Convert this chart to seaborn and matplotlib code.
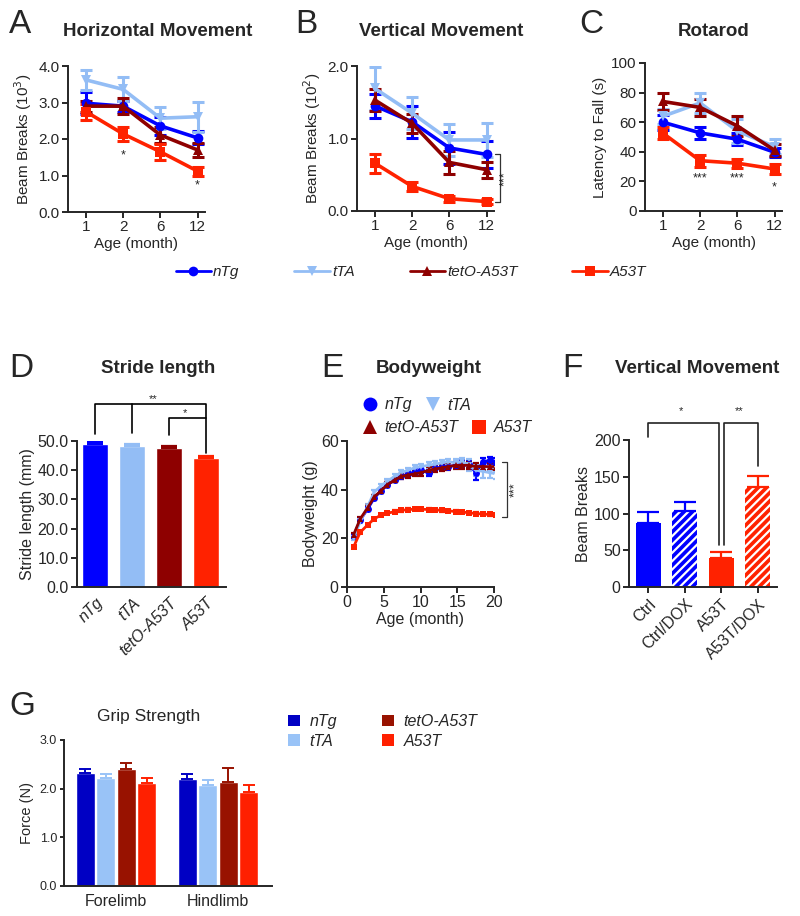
import numpy as np
import pandas as pd
import matplotlib.pyplot as plt
import matplotlib.ticker as mticker
from matplotlib.lines import Line2D
from matplotlib.patches import Patch
import seaborn as sns

# ── Data ───────────────────────────────────────────────────────────
groups = ['nTg', 'tTA', 'tetO-A53T', 'A53T']
ages = ['1', '2', '6', '12']

# A: horizontal movement (10^3), rows follow `groups`
horiz_mean = [[2.98, 2.90, 2.36, 2.03],
              [3.62, 3.36, 2.57, 2.61],
              [2.90, 2.90, 2.11, 1.70],
              [2.75, 2.14, 1.65, 1.12]]
horiz_err = [[0.30, 0.15, 0.25, 0.18],
             [0.27, 0.33, 0.30, 0.41],
             [0.15, 0.22, 0.22, 0.20],
             [0.22, 0.20, 0.22, 0.12]]

# B: vertical movement (10^2)
vert_mean = [[1.45, 1.23, 0.87, 0.78],
             [1.69, 1.35, 0.98, 0.98],
             [1.53, 1.21, 0.67, 0.57],
             [0.66, 0.34, 0.17, 0.13]]
vert_err = [[0.17, 0.22, 0.22, 0.18],
            [0.30, 0.22, 0.22, 0.23],
            [0.15, 0.13, 0.16, 0.11],
            [0.13, 0.06, 0.04, 0.03]]

# C: rotarod (s)
rota_mean = [[60.0, 52.8, 48.5, 39.7],
             [64.0, 73.0, 54.0, 43.5],
             [74.0, 70.0, 57.5, 41.0],
             [52.6, 34.0, 32.3, 28.4]]
rota_err = [[5.0, 4.0, 4.0, 3.0],
            [5.0, 7.0, 8.0, 5.0],
            [6.0, 6.0, 7.0, 4.0],
            [4.0, 4.0, 3.0, 3.5]]

# D: stride length (mm)
stride_mean = [49.0, 48.3, 47.6, 44.1]
stride_err = [0.8, 0.6, 0.8, 0.6]

# E: bodyweight (g)
bw_age = [0.9, 1.8, 2.8, 3.7, 4.6, 5.5, 6.5, 7.4, 8.3, 9.2, 10.1,
          11.1, 12.0, 12.9, 13.8, 14.8, 15.7, 16.6, 17.5, 18.5, 19.4, 20.3]
bw_mean = [[21.0, 27.5, 32.0, 36.5, 39.5, 42.0, 44.0, 45.5, 46.5, 47.3, 48.0,
            46.8, 48.8, 49.3, 49.5, 50.0, 50.5, 50.5, 47.0, 51.5, 52.0, 51.5],
           [20.0, 27.0, 33.0, 39.0, 41.5, 43.5, 45.5, 47.0, 48.0, 49.0, 49.5,
            50.0, 50.5, 51.0, 51.5, 51.0, 51.5, 50.0, 48.0, 47.5, 47.0, 46.5],
           [21.5, 28.0, 32.5, 37.0, 39.5, 42.0, 44.0, 45.5, 46.0, 46.5, 47.0,
            48.0, 48.5, 49.0, 49.5, 50.0, 50.0, 50.0, 49.5, 49.5, 49.5, 49.5],
           [16.5, 22.5, 25.5, 28.0, 29.5, 30.3, 31.0, 31.5, 31.8, 32.0, 32.0,
            31.8, 31.7, 31.5, 31.3, 31.0, 30.8, 30.5, 30.2, 30.0, 29.8, 29.5]]
bw_err = [[0.8, 0.8, 0.8, 0.9, 0.9, 1.0, 1.0, 1.0, 1.0, 1.0, 1.0,
           1.2, 1.2, 1.2, 1.2, 1.3, 1.5, 1.5, 3.0, 1.5, 1.5, 1.5],
          [0.8, 0.8, 1.0, 1.0, 1.0, 1.0, 1.0, 1.0, 1.0, 1.0, 1.2,
           1.2, 1.2, 1.2, 1.3, 1.5, 1.5, 2.5, 2.5, 2.5, 2.0, 2.0],
          [0.8, 0.8, 1.0, 1.0, 1.0, 1.0, 1.0, 1.0, 1.0, 1.0, 1.2,
           1.2, 1.2, 1.2, 1.3, 1.5, 1.5, 1.5, 1.5, 1.5, 1.5, 1.5],
          [0.5, 0.5, 0.5, 0.5, 0.5, 0.5, 0.5, 0.5, 0.5, 0.5, 0.5,
           0.5, 0.5, 0.5, 0.5, 0.5, 0.5, 0.5, 0.5, 0.5, 0.5, 0.5]]

# F: vertical movement with DOX
dox_cats = ['Ctrl', 'Ctrl/DOX', 'A53T', 'A53T/DOX']
dox_mean = [87.5, 104.0, 40.0, 135.6]
dox_err = [14.0, 12.0, 8.0, 15.0]

# G: grip strength (N)
limbs = ['Forelimb', 'Hindlimb']
grip_mean = [[2.33, 2.19],
             [2.21, 2.07],
             [2.41, 2.14],
             [2.11, 1.94]]
grip_err = [[0.07, 0.12],
            [0.09, 0.11],
            [0.11, 0.29],
            [0.10, 0.14]]

# ── Style ──────────────────────────────────────────────────────────
sns.set_style('ticks')
plt.rcParams['font.family'] = ['Liberation Sans', 'DejaVu Sans']
plt.rcParams['axes.linewidth'] = 1.4
plt.rcParams['xtick.major.width'] = 1.4
plt.rcParams['ytick.major.width'] = 1.4
plt.rcParams['xtick.major.size'] = 4
plt.rcParams['ytick.major.size'] = 4
plt.rcParams['xtick.major.pad'] = 2
plt.rcParams['ytick.major.pad'] = 2
plt.rcParams['hatch.linewidth'] = 1.6

PAL = {'nTg': '#0000ff', 'tTA': '#93bdf5', 'tetO-A53T': '#8e0000', 'A53T': '#ff2200'}
PAL_G = {'nTg': '#0000c4', 'tTA': '#99c3f7', 'tetO-A53T': '#981200', 'A53T': '#ff2000'}
MARK = {'nTg': 'o', 'tTA': 'v', 'tetO-A53T': '^', 'A53T': 's'}
DOX_COL = ['#0000ff', '#0000ff', '#ff2200', '#ff2200']
DOX_HATCH = ['', '////', '', '////']

W, H = 800, 916
fig = plt.figure(figsize=(8, 9.16), dpi=100)


def add_ax(l, t, r, b):
    return fig.add_axes([l / W, 1 - b / H, (r - l) / W, (b - t) / H])


def letter(x, y, s):
    fig.text(x / W, 1 - y / H, s, fontsize=24, va='baseline', ha='left')


def title(x, y, s, bold=True, size=13.5):
    fig.text(x / W, 1 - y / H, s, fontsize=size, va='baseline', ha='center',
             fontweight='bold' if bold else 'normal')


def line_panel(ax, means, errs, ylim, yticks, fmt, ylabel):
    rows = []
    for g, m in zip(groups, means):
        for i, v in enumerate(m):
            rows.append({'pos': i, 'value': v, 'group': g})
    df = pd.DataFrame(rows)
    for g, m, e in zip(groups, means, errs):
        ax.errorbar(range(len(ages)), m, yerr=e, fmt='none', ecolor=PAL[g],
                    elinewidth=2.2, capsize=4.5, capthick=2.2, zorder=2)
    sns.lineplot(data=df, x='pos', y='value', hue='group', style='group',
                 hue_order=groups, style_order=groups, markers=MARK,
                 dashes=False, palette=PAL, linewidth=2.6, markersize=7,
                 markeredgewidth=0, legend=False, ax=ax, zorder=3)
    ax.set_xlim(-0.48, 3.2)
    ax.set_ylim(*ylim)
    ax.set_yticks(yticks)
    ax.yaxis.set_major_formatter(mticker.FormatStrFormatter(fmt))
    ax.set_xticks(range(len(ages)))
    ax.set_xticklabels(ages)
    ax.tick_params(labelsize=11)
    ax.set_xlabel('Age (month)', fontsize=11, labelpad=2)
    ax.set_ylabel(ylabel, fontsize=11, labelpad=3)
    sns.despine(ax=ax)


# ══════════════════════════════════════════════════════════════════
# A / B / C — line panels
# ══════════════════════════════════════════════════════════════════
axA = add_ax(68, 66, 205, 212)
line_panel(axA, horiz_mean, horiz_err, (0, 4), [0, 1, 2, 3, 4], '%.1f',
           'Beam Breaks (10$^3$)')
axA.text(1, 1.55, '*', ha='center', va='center', fontsize=9)
axA.text(3, 0.72, '*', ha='center', va='center', fontsize=9)

axB = add_ax(357, 66, 494, 211)
line_panel(axB, vert_mean, vert_err, (0, 2), [0, 1, 2], '%.1f',
           'Beam Breaks (10$^2$)')
axB.plot([3.22, 3.35, 3.35, 3.22], [0.785, 0.785, 0.124, 0.124],
         color='#333333', lw=0.9, clip_on=False)
axB.text(3.5, 0.45, '***', rotation=90, ha='center', va='center', fontsize=9)

axC = add_ax(645, 63, 782, 211)
line_panel(axC, rota_mean, rota_err, (0, 100), [0, 20, 40, 60, 80, 100], '%d',
           'Latency to Fall (s)')
axC.text(1, 22, '***', ha='center', va='center', fontsize=9)
axC.text(2, 22, '***', ha='center', va='center', fontsize=9)
axC.text(3, 16, '*', ha='center', va='center', fontsize=9)

letter(9, 33, 'A')
letter(295, 33, 'B')
letter(579, 33, 'C')
title(158, 36, 'Horizontal Movement')
title(441, 36, 'Vertical Movement')
title(714, 36, 'Rotarod')

handles = [Line2D([], [], color=PAL[g], marker=MARK[g], lw=2, markersize=7,
                  markeredgewidth=0) for g in groups]
fig.legend(handles, groups, loc='center', bbox_to_anchor=(411 / W, 1 - 272 / H),
           ncol=4, frameon=False, prop={'style': 'italic', 'size': 11},
           handlelength=2.3, handletextpad=0.15, columnspacing=3.6)

# ══════════════════════════════════════════════════════════════════
# D — stride length
# ══════════════════════════════════════════════════════════════════
axD = add_ax(77, 441, 226, 587)
sns.barplot(x=groups, y=stride_mean, hue=groups, order=groups, hue_order=groups,
            palette=PAL, legend=False, width=0.7, saturation=1, ax=axD)
for bar, e, g in zip(axD.patches, stride_err, groups):
    cx = bar.get_x() + bar.get_width() / 2
    axD.errorbar(cx, bar.get_height(), yerr=[[0], [e]], fmt='none', ecolor=PAL[g],
                 elinewidth=1.6, capsize=6, capthick=1.6)
axD.set_xlim(-0.49, 3.54)
axD.set_ylim(0, 50)
axD.set_yticks([0, 10, 20, 30, 40, 50])
axD.yaxis.set_major_formatter(mticker.FormatStrFormatter('%.1f'))
axD.set_xticks(range(4))
axD.set_xticklabels(groups, rotation=45, ha='right', rotation_mode='anchor',
                    style='italic')
axD.tick_params(axis='x', length=0, pad=6)
axD.tick_params(labelsize=11.5)
axD.set_ylabel('Stride length (mm)', fontsize=11.5, labelpad=2)
sns.despine(ax=axD)
kw = dict(color='black', lw=1.2, clip_on=False)
axD.plot([0, 0, 3, 3], [52.5, 62.7, 62.7, 46.0], **kw)
axD.plot([1, 1], [52.7, 62.7], **kw)
axD.plot([2, 2, 3], [52.0, 57.9, 57.9], **kw)
axD.text(1.57, 64.3, '**', ha='center', va='center', fontsize=8)
axD.text(2.43, 59.6, '*', ha='center', va='center', fontsize=8)
letter(9, 377, 'D')
title(158, 373, 'Stride length')

# ══════════════════════════════════════════════════════════════════
# E — bodyweight
# ══════════════════════════════════════════════════════════════════
axE = add_ax(347, 441, 494, 587)
rows = []
for g, m in zip(groups, bw_mean):
    for a, v in zip(bw_age, m):
        rows.append({'age': a, 'weight': v, 'group': g})
dfE = pd.DataFrame(rows)
for g, m, e in zip(groups, bw_mean, bw_err):
    axE.errorbar(bw_age, m, yerr=e, fmt='none', ecolor=PAL[g], elinewidth=1.6,
                 capsize=2.5, capthick=1.6, zorder=2)
sns.lineplot(data=dfE, x='age', y='weight', hue='group', style='group',
             hue_order=groups, style_order=groups, markers=MARK, dashes=False,
             palette=PAL, linewidth=2.0, markersize=5, markeredgewidth=0,
             legend=False, ax=axE, zorder=3)
axE.set_xlim(0, 20)
axE.set_ylim(0, 60)
axE.set_xticks([0, 5, 10, 15, 20])
axE.set_yticks([0, 20, 40, 60])
axE.tick_params(labelsize=11.5)
axE.set_xlabel('Age (month)', fontsize=11.5, labelpad=1)
axE.set_ylabel('Bodyweight (g)', fontsize=11.5, labelpad=2)
sns.despine(ax=axE)
axE.plot([21.1, 21.8, 21.8, 21.1], [51.3, 51.3, 28.8, 28.8], color='#333333',
         lw=0.9, clip_on=False)
axE.text(22.9, 40, '***', rotation=90, ha='center', va='center', fontsize=9)
hE = {g: Line2D([], [], color=PAL[g], marker=MARK[g], linestyle='none',
                markersize=10, markeredgewidth=0) for g in groups}
legE1 = axE.legend([hE['nTg'], hE['tTA']], ['nTg', 'tTA'], loc='center left',
                   bbox_to_anchor=(362 / W, 1 - 405 / H),
                   bbox_transform=fig.transFigure, ncol=2, frameon=False,
                   prop={'style': 'italic', 'size': 11.5}, handlelength=1.0,
                   handletextpad=0.4, columnspacing=0.8, borderpad=0,
                   borderaxespad=0)
axE.add_artist(legE1)
axE.legend([hE['tetO-A53T'], hE['A53T']], ['tetO-A53T', 'A53T'], loc='center left',
           bbox_to_anchor=(362 / W, 1 - 428 / H), bbox_transform=fig.transFigure,
           ncol=2, frameon=False, prop={'style': 'italic', 'size': 11.5},
           handlelength=1.0, handletextpad=0.4, columnspacing=0.8, borderpad=0,
           borderaxespad=0)
letter(321, 377, 'E')
title(429, 373, 'Bodyweight')

# ══════════════════════════════════════════════════════════════════
# F — vertical movement with DOX
# ══════════════════════════════════════════════════════════════════
axF = add_ax(629, 440, 777, 587)
sns.barplot(x=dox_cats, y=dox_mean, hue=dox_cats, order=dox_cats,
            hue_order=dox_cats, palette=DOX_COL, legend=False, width=0.68,
            saturation=1, ax=axF)
for bar, e, c, h in zip(axF.patches, dox_err, DOX_COL, DOX_HATCH):
    bar.set_hatch(h)
    bar.set_edgecolor('white')
    bar.set_linewidth(0)
    cx = bar.get_x() + bar.get_width() / 2
    axF.errorbar(cx, bar.get_height(), yerr=[[0], [e]], fmt='none', ecolor=c,
                 elinewidth=1.6, capsize=8, capthick=1.6)
axF.set_xlim(-0.52, 3.52)
axF.set_ylim(0, 200)
axF.set_yticks([0, 50, 100, 150, 200])
axF.set_xticks(range(4))
axF.set_xticklabels(dox_cats, rotation=45, ha='right', rotation_mode='anchor')
axF.tick_params(labelsize=11.5)
axF.tick_params(axis='x', pad=3)
axF.set_ylabel('Beam Breaks', fontsize=11.5, labelpad=2)
sns.despine(ax=axF)
kw = dict(color='#222222', lw=1.2, clip_on=False)
axF.plot([0, 0, 1.93, 1.93], [204, 223, 223, 57], **kw)
axF.plot([2.07, 2.07, 3, 3], [57, 223, 223, 165], **kw)
axF.text(0.9, 240, '*', ha='center', va='center', fontsize=8)
axF.text(2.5, 240, '**', ha='center', va='center', fontsize=8)
letter(562, 377, 'F')
title(697, 373, 'Vertical Movement')

# ══════════════════════════════════════════════════════════════════
# G — grip strength
# ══════════════════════════════════════════════════════════════════
axG = add_ax(64, 740, 272, 886)
rows = []
for g, m in zip(groups, grip_mean):
    for limb, v in zip(limbs, m):
        rows.append({'limb': limb, 'force': v, 'group': g})
dfG = pd.DataFrame(rows)
sns.barplot(data=dfG, x='limb', y='force', hue='group', hue_order=groups,
            order=limbs, palette=PAL_G, saturation=1, gap=0.08, errorbar=None,
            legend=False, ax=axG)
for cont, errs, g in zip(axG.containers, grip_err, groups):
    for bar, e in zip(cont, errs):
        cx = bar.get_x() + bar.get_width() / 2
        axG.errorbar(cx, bar.get_height(), yerr=[[0], [e]], fmt='none',
                     ecolor=PAL_G[g], elinewidth=1.4, capsize=4.5, capthick=1.4)
axG.set_xlim(-0.51, 1.53)
axG.set_ylim(0, 3)
axG.set_yticks([0, 1, 2, 3])
axG.yaxis.set_major_formatter(mticker.FormatStrFormatter('%.1f'))
axG.tick_params(axis='y', labelsize=9, length=3)
axG.tick_params(axis='x', labelsize=11.5, length=0, pad=6)
axG.set_xlabel('')
axG.set_ylabel('Force (N)', fontsize=10.5, labelpad=4)
sns.despine(ax=axG)
hG = [Patch(facecolor=PAL_G[g], edgecolor='none') for g in groups]
fig.legend(hG, groups, loc='upper left', bbox_to_anchor=(280 / W, 1 - 706 / H),
           ncol=2, frameon=False, prop={'style': 'italic', 'size': 11.5},
           handlelength=0.75, handleheight=0.75, handletextpad=0.6,
           columnspacing=2.8, labelspacing=0.3, borderpad=0)
letter(9, 715, 'G')
title(149, 721, 'Grip Strength', bold=False, size=12.5)

plt.savefig('out.png', dpi=100)
